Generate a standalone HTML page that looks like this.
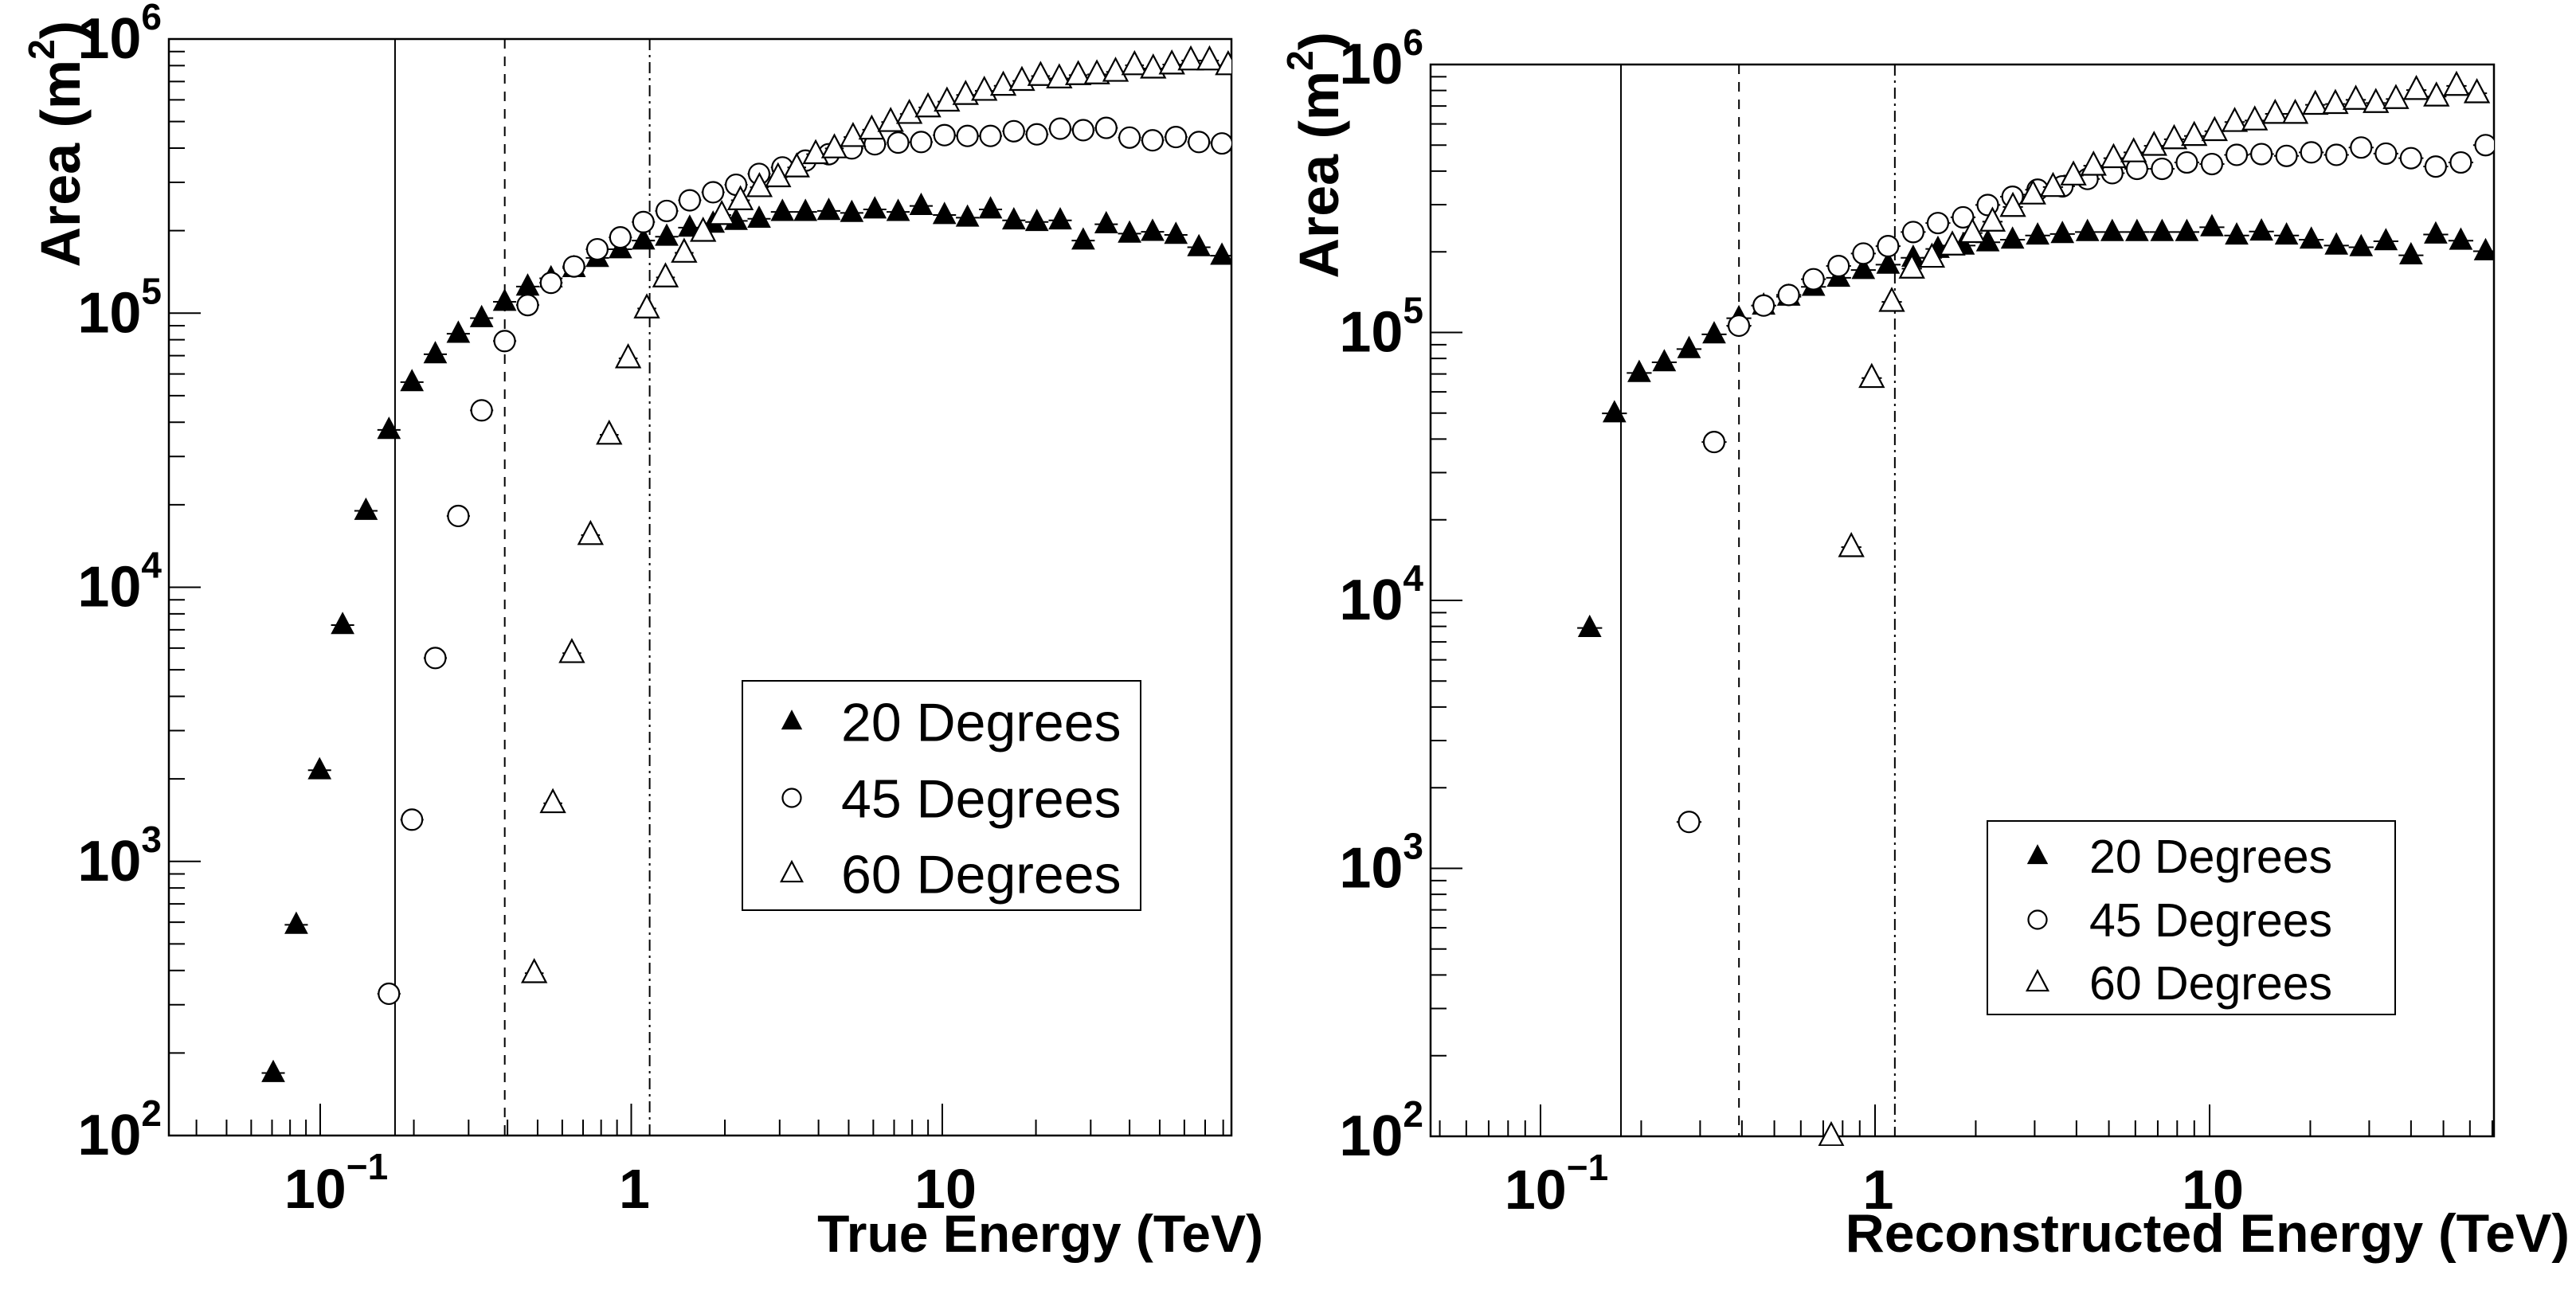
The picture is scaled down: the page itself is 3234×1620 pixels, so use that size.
<!DOCTYPE html>
<html><head><meta charset="utf-8"><style>
html,body{margin:0;padding:0;background:#fff;}
svg{display:block;}
text{font-family:"Liberation Sans",Arial,sans-serif;}
</style></head><body>
<svg id="fig" width="3234" height="1620" viewBox="0 0 3234 1620" xmlns="http://www.w3.org/2000/svg">
<rect width="3234" height="1620" fill="#fff"/>
</svg>
<script>
// ---- data (log10 of energy bin centres in TeV, areas in m^2) ----
const binsFine = [-1.151,-1.077,-1.002,-0.928,-0.853,-0.779,-0.705,-0.630,-0.556,-0.481,-0.407,-0.333,-0.258,-0.184,-0.109,-0.035,0.039,0.114,0.188,0.263,0.337,0.411,0.486,0.560,0.635,0.709,0.783,0.858,0.932,1.007,1.081,1.155,1.230,1.304,1.379,1.453,1.527,1.602,1.676,1.751,1.825,1.899];
const bins60 = [-0.312,-0.252,-0.191,-0.131,-0.071,-0.010,0.050,0.110,0.170,0.231,0.291,0.351,0.412,0.472,0.532,0.593,0.653,0.713,0.773,0.834,0.894,0.954,1.015,1.075,1.135,1.196,1.256,1.316,1.376,1.437,1.497,1.557,1.618,1.678,1.738,1.799,1.859,1.919];

const trueA20 = [169,587,2150,7280,19000,37500,56000,70800,84100,95900,110000,125000,134000,146000,159000,171000,184000,190000,205000,212000,217000,221000,234000,234000,236000,232000,239000,234000,246000,228000,223000,239000,218000,215000,218000,184000,211000,195000,198000,193000,174000,162000];
const trueA45 = [329,1420,5520,18200,44200,79100,107000,129000,148000,171000,189000,215000,236000,258000,276000,294000,322000,340000,360000,380000,399000,413000,419000,421000,446000,443000,443000,461000,449000,471000,465000,474000,437000,427000,439000,421000,416000];
const trueA60 = [391,1630,5750,15500,36000,68400,104000,135000,166000,198000,228000,258000,288000,313000,340000,380000,399000,439000,467000,498000,533000,563000,591000,625000,647000,675000,703000,733000,718000,738000,743000,759000,802000,780000,807000,835000,835000,802000];

const recoA20 = [7890,49900,70600,77400,86700,98400,113000,126000,136000,148000,160000,171000,179000,190000,205000,211000,217000,222000,230000,233000,237000,237000,237000,237000,237000,247000,230000,238000,230000,222000,211000,208000,219000,194000,232000,220000,201000];
const recoA45 = [1490,39000,106000,126000,138000,158000,177000,197000,210000,237000,256000,269000,299000,321000,341000,351000,374000,393000,408000,408000,431000,425000,460000,463000,456000,470000,460000,490000,465000,447000,416000,431000,500000];
const recoA60 = [100,15800,67600,130000,173000,190000,211000,235000,259000,294000,327000,349000,385000,419000,447000,470000,497000,526000,541000,564000,610000,618000,654000,654000,707000,712000,738000,718000,743000,803000,759000,832000,781000];

const xTickLabels = ["10","1","10"];
const yTickExps = ["2","3","4","5","6"];
const legendLabels = ["20 Degrees","45 Degrees","60 Degrees"];
const cutLines = [0.174, 0.392, 1.146];

const NS = "http://www.w3.org/2000/svg";
const svg = document.getElementById("fig");
function mk(tag, attrs, parent){
  const e = document.createElementNS(NS, tag);
  for (const k in attrs) e.setAttribute(k, attrs[k]);
  (parent||svg).appendChild(e);
  return e;
}

function marker(g, kind, cx, cy, s){
  let m;
  if (kind === 0){
    m = mk("polygon",{points:`${cx},${cy-s*0.62} ${cx-s*0.55},${cy+s*0.42} ${cx+s*0.55},${cy+s*0.42}`,fill:"#000"},g);
  } else if (kind === 1){
    m = mk("circle",{cx:cx,cy:cy,r:s*0.48,fill:"#fff",stroke:"#000","stroke-width":2.2},g);
  } else {
    m = mk("polygon",{points:`${cx},${cy-s*0.62} ${cx-s*0.55},${cy+s*0.42} ${cx+s*0.55},${cy+s*0.42}`,fill:"#fff",stroke:"#000","stroke-width":2.2},g);
  }
  return m;
}

function panel(cfg){
  const g = mk("g",{});
  
  
  const {L,R,T,B,x0,dec} = cfg;
  const xs = lg => x0 + dec*(lg+1);
  const ys = lv => B - (B-T)*(lv-2)/4;

  const cid = cfg.name + "-clip";
  const defs = mk("defs",{},g);
  const cp = mk("clipPath",{id:cid},defs);
  mk("rect",{x:L,y:T-12,width:R-L,height:B-T+24},cp);

  const fr = mk("rect",{x:L,y:T,width:R-L,height:B-T,fill:"none",stroke:"#000","stroke-width":2.5},g);
  
  

  for (let d=2; d<=6; d++){
    for (let k=1; k<=9; k++){
      const lv = d + Math.log10(k);
      if (lv>6.0001) break;
      const y = ys(lv);
      const len = k===1 ? 40 : 20;
      const t = mk("line",{x1:L,x2:L+len,y1:y,y2:y,stroke:"#000","stroke-width":2},g);
      
      
    }
  }
  yTickExps.forEach((e,i)=>{
    const y = ys(2+i);
    const tx = mk("text",{x:L-9,y:y+24,"text-anchor":"end","font-size":72,"font-weight":"bold"},g);
    
    
    const t1 = mk("tspan",{},tx); t1.textContent = "10";
    const t2 = mk("tspan",{dy:-36,"font-size":46}, tx); t2.textContent = e;
  });

  const lmin = (L-x0)/dec - 1, lmax = (R-x0)/dec - 1;
  for (let d=-2; d<=2; d++){
    for (let k=1; k<=9; k++){
      const lg = d + Math.log10(k);
      if (lg<lmin || lg>lmax) continue;
      const x = xs(lg);
      const len = k===1 ? 40 : 20;
      const t = mk("line",{x1:x,x2:x,y1:B,y2:B-len,stroke:"#000","stroke-width":2},g);
      
      
    }
  }
  xTickLabels.forEach((lab,i)=>{
    const lg = i-1;
    const x = xs(lg);
    const tx = mk("text",{x:i===0?x+20:x+4,y:B+91,"text-anchor":"middle","font-size":70,"font-weight":"bold"},g);
    
    
    const t1 = mk("tspan",{},tx); t1.textContent = lab;
    if (i===0){ const t2 = mk("tspan",{dy:-36,"font-size":46},tx); t2.textContent = "\u22121"; }
  });

  const dashes = ["none","12,10","14,6,3,6"];
  cutLines.forEach((c,i)=>{
    const x = xs(Math.log10(c));
    const ln = mk("line",{x1:x,x2:x,y1:T,y2:B,stroke:"#000","stroke-width":2,"stroke-dasharray":dashes[i]},g);
    
    
  });

  const dg = mk("g",{"clip-path":`url(#${cid})`},g);
  cfg.series.forEach((s,si)=>{
    const sg = mk("g",{},dg);
    
    
    const half = s.step/2;
    s.vals.forEach((v,i)=>{
      const lg = s.bins[s.off+i];
      const x = xs(lg), y = ys(Math.log10(v));
      const eb = mk("line",{x1:xs(lg-half),x2:xs(lg+half),y1:y,y2:y,stroke:"#000","stroke-width":2},sg);
      
      
      const m = marker(sg, si, x, y, cfg.ms);
      
      
    });
  });

  const lgd = cfg.legend;
  const lgG = mk("g",{},g);
  
  
  mk("rect",{x:lgd.x,y:lgd.y,width:lgd.w,height:lgd.h,fill:"#fff",stroke:"#000","stroke-width":2},lgG);
  legendLabels.forEach((lab,i)=>{
    const cy = lgd.rows[i];
    const m = marker(lgG, i, lgd.mx, cy, 24);
    
    
    const t = mk("text",{x:lgd.tx,y:cy+lgd.fs*0.36,"font-size":lgd.fs},lgG);
    t.textContent = lab;
    
    
  });

  const xt = mk("text",{x:cfg.xtX,y:1572,"text-anchor":"end","font-size":cfg.xtFs,"font-weight":"bold"},g);
  xt.textContent = cfg.xtitle;
  
  
  const yt = mk("text",{x:0,y:0,"text-anchor":"end","font-size":cfg.titleFs,"font-weight":"bold",transform:`translate(${cfg.ytX},${cfg.ytY}) rotate(-90)`},g);
  
  
  const a = mk("tspan",{},yt); a.textContent = "Area (m";
  const b = mk("tspan",{dy:-32,"font-size":46},yt); b.textContent = "2";
  const c = mk("tspan",{dy:32},yt); c.textContent = ")";
}

panel({name:"true-energy-panel",L:212,R:1546,T:49,B:1426,x0:402,dec:390.5,ms:27,
  xtitle:"True Energy (TeV)",xtX:1586,xtFs:66,ytX:100,ytY:26,titleFs:70,
  legend:{x:932,y:855,w:500,h:288,mx:994,tx:1056,rows:[906,1002,1097],fs:68},
  series:[{bins:binsFine,off:0,step:0.0744,vals:trueA20},
          {bins:binsFine,off:5,step:0.0744,vals:trueA45},
          {bins:bins60,off:0,step:0.0603,vals:trueA60}]});

panel({name:"reconstructed-energy-panel",L:1796,R:3131,T:81,B:1427,x0:1934,dec:420,ms:27,
  xtitle:"Reconstructed Energy (TeV)",xtX:3226,xtFs:68,ytX:1680,ytY:40,titleFs:70,
  legend:{x:2495,y:1031,w:512,h:243,mx:2558,tx:2623,rows:[1075,1155,1234],fs:59},
  series:[{bins:binsFine,off:4,step:0.0744,vals:recoA20},
          {bins:binsFine,off:8,step:0.0744,vals:recoA45},
          {bins:bins60,off:3,step:0.0603,vals:recoA60}]});
</script>
</body></html>
